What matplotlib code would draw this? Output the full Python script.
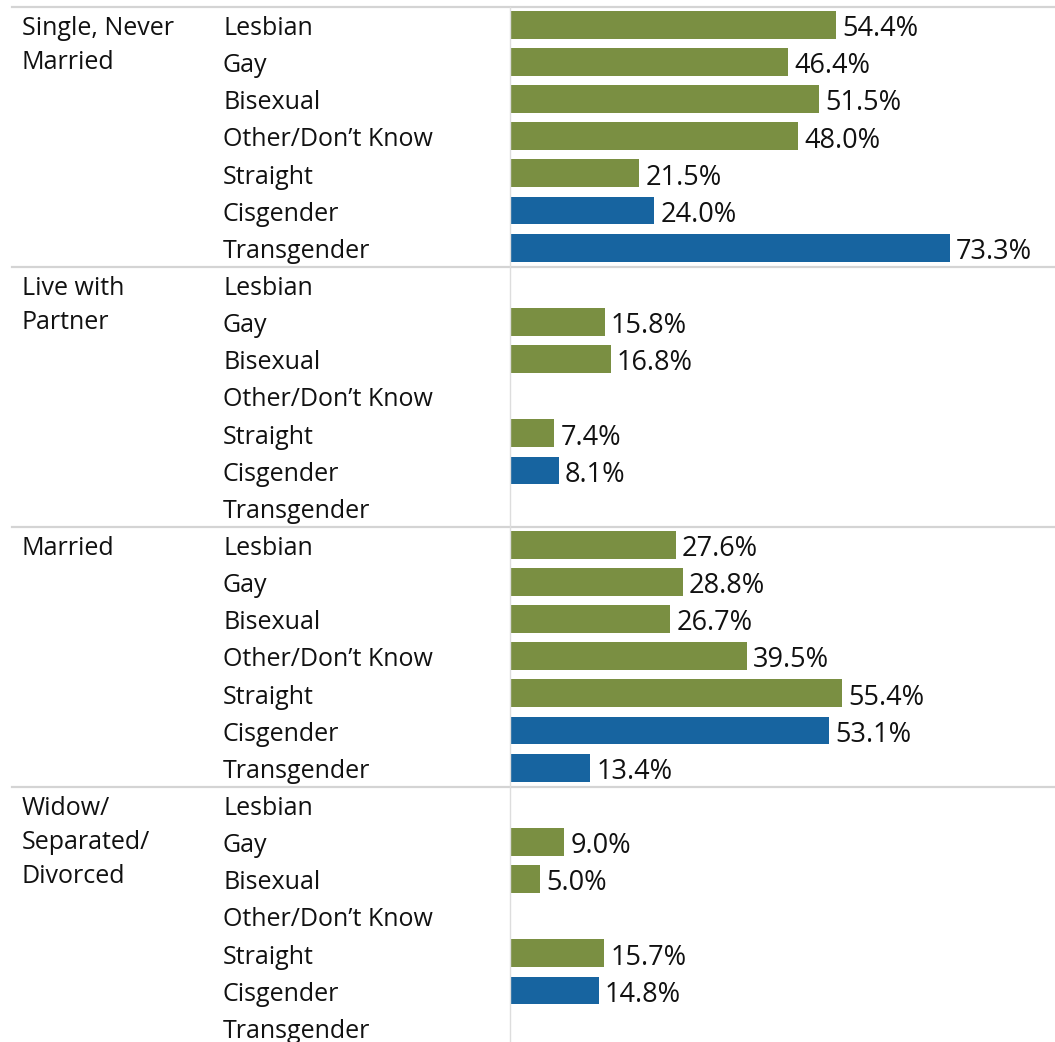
import numpy as np
import matplotlib
matplotlib.use("Agg")
import matplotlib.pyplot as plt
from matplotlib.transforms import blended_transform_factory

plt.rcParams['font.family'] = ['Open Sans', 'DejaVu Sans']

groups = ["Single, Never\nMarried", "Live with\nPartner", "Married", "Widow/\nSeparated/\nDivorced"]
categories = ["Lesbian", "Gay", "Bisexual", "Other/Don\u2019t Know", "Straight", "Cisgender", "Transgender"]
single_never_married = [54.4, 46.4, 51.5, 48.0, 21.5, 24.0, 73.3]
live_with_partner = [np.nan, 15.8, 16.8, np.nan, 7.4, 8.1, np.nan]
married = [27.6, 28.8, 26.7, 39.5, 55.4, 53.1, 13.4]
widow_separated_divorced = [np.nan, 9.0, 5.0, np.nan, 15.7, 14.8, np.nan]
values = [single_never_married, live_with_partner, married, widow_separated_divorced]

green = "#7a8f42"
blue = "#1764a0"
colors = [green] * 5 + [blue] * 2

W, H = 1055, 1042
fig = plt.figure(figsize=(W / 100, H / 100), dpi=100)
# the last panel runs a little past the bottom edge, as in the original
ax = fig.add_axes([510 / W, -5 / H, 1 - 510 / W, 1040 / H])

n_cat = len(categories)
n_rows = n_cat * len(groups)
ax.set_ylim(n_rows, 0)
ax.set_xlim(0, 545 / 6.0)
ax.axis("off")

trans = blended_transform_factory(fig.transFigure, ax.transData)
fs = 18

for g, (grp, vals) in enumerate(zip(groups, values)):
    base = g * n_cat
    # group label, one line at a time
    for k, line in enumerate(grp.split("\n")):
        ax.text(22 / W, base + 0.5 + k * 34 / 37.1, line, transform=trans,
                ha="left", va="center_baseline", fontsize=fs, color="#111111")
    for i, (cat, v) in enumerate(zip(categories, vals)):
        y = base + i + 0.5
        ax.text(223 / W, y, cat, transform=trans, ha="left", va="center_baseline",
                fontsize=fs, color="#111111")
        if not np.isnan(v):
            ax.barh(y - 0.02, v, height=0.75, color=colors[i])
            ax.annotate(f"{v:.1f}%", (v, y), xytext=(4.5, 0), textcoords="offset points",
                        ha="left", va="center_baseline", fontsize=19.5, color="#111111")
    # separator line across the whole width
    ax.plot([12 / W, 1], [base, base], transform=trans, color="#d4d4d4",
            lw=1.6, clip_on=False)

ax.plot([0, 0], [0, n_rows], color="#dddddd", lw=1, clip_on=False)

fig.savefig("out.png", dpi=100)
